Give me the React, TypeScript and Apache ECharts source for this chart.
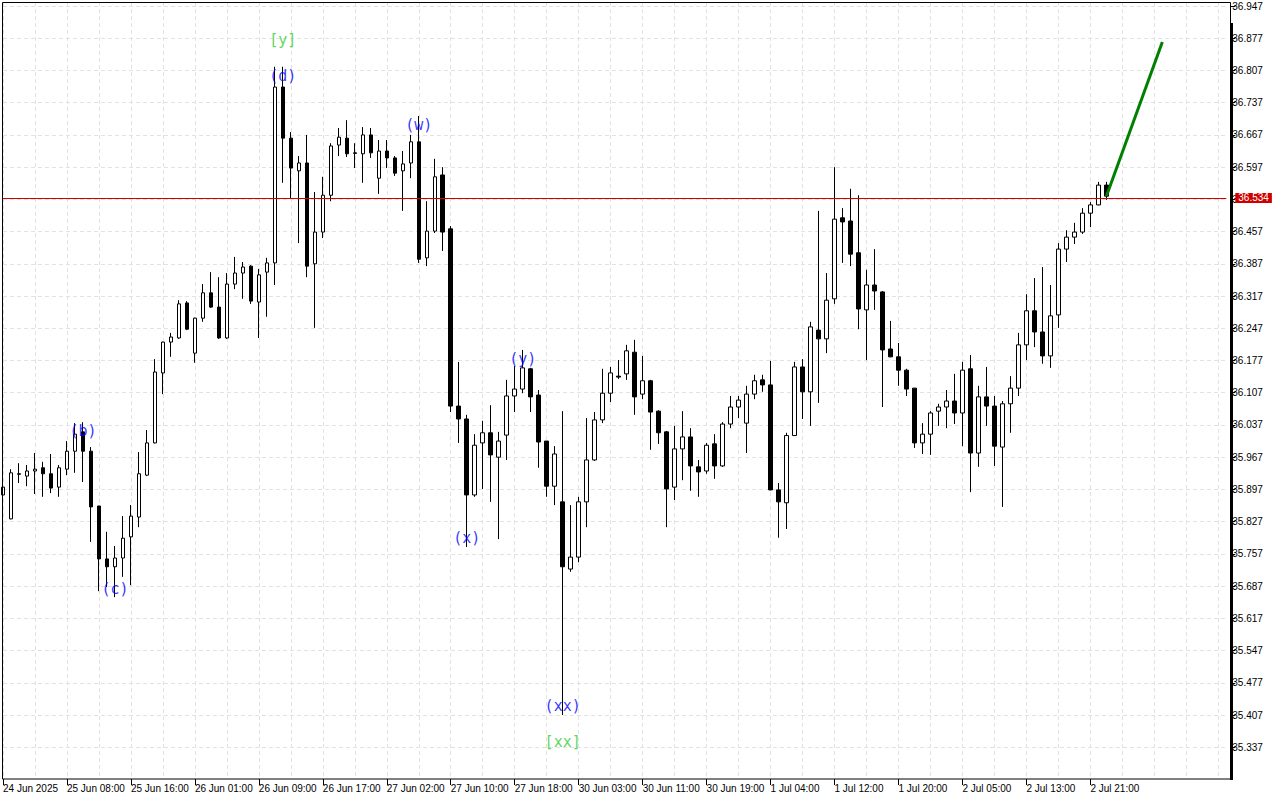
import React, { useEffect, useRef } from 'react';
import * as echarts from 'echarts';

// H1 candles, index 0 = 24 Jun 23:00
const opens = [35.885, 35.833, 35.931, 35.926, 35.937, 35.944, 35.931, 35.902, 35.941, 35.980, 36.022, 35.980, 35.861, 35.746, 35.729, 35.748, 35.794, 35.837, 35.928, 35.998, 36.150, 36.217, 36.226, 36.302, 36.193, 36.269, 36.324, 36.293, 36.226, 36.343, 36.367, 36.382, 36.304, 36.369, 36.389, 36.771, 36.660, 36.589, 36.606, 36.387, 36.456, 36.536, 36.645, 36.660, 36.628, 36.626, 36.667, 36.573, 36.632, 36.617, 36.589, 36.606, 36.652, 36.400, 36.458, 36.580, 36.463, 36.078, 36.050, 35.885, 35.998, 36.020, 35.967, 36.015, 36.100, 36.115, 36.159, 36.102, 36.002, 35.904, 35.870, 35.724, 35.750, 35.870, 35.961, 36.048, 36.106, 36.143, 36.148, 36.195, 36.104, 36.133, 36.067, 36.022, 35.902, 35.985, 36.011, 35.946, 35.937, 35.996, 35.948, 36.039, 36.076, 36.041, 36.104, 36.135, 36.124, 35.896, 35.868, 36.014, 36.163, 36.109, 36.243, 36.224, 36.311, 36.487, 36.480, 36.411, 36.287, 36.341, 36.326, 36.202, 36.185, 36.156, 36.117, 35.998, 36.017, 36.067, 36.076, 36.089, 36.063, 36.159, 35.976, 36.098, 36.078, 35.989, 36.083, 36.117, 36.211, 36.285, 36.239, 36.187, 36.276, 36.419, 36.445, 36.456, 36.497, 36.515, 36.558];
const closes = [35.902, 35.933, 35.930, 35.937, 35.941, 35.931, 35.900, 35.944, 35.980, 36.017, 35.980, 35.859, 35.746, 35.729, 35.748, 35.791, 35.839, 35.931, 35.998, 36.152, 36.217, 36.228, 36.300, 36.245, 36.269, 36.324, 36.293, 36.226, 36.343, 36.367, 36.380, 36.306, 36.363, 36.389, 36.771, 36.660, 36.595, 36.606, 36.382, 36.456, 36.536, 36.643, 36.662, 36.626, 36.627, 36.667, 36.628, 36.632, 36.617, 36.584, 36.604, 36.652, 36.397, 36.458, 36.576, 36.456, 36.078, 36.050, 35.885, 35.993, 36.020, 35.972, 36.002, 36.100, 36.115, 36.161, 36.098, 36.000, 35.904, 35.974, 35.729, 35.750, 35.870, 35.961, 36.048, 36.106, 36.150, 36.141, 36.198, 36.098, 36.133, 36.065, 36.020, 35.898, 35.985, 36.011, 35.948, 35.935, 35.993, 35.948, 36.039, 36.076, 36.091, 36.104, 36.133, 36.124, 35.896, 35.870, 36.014, 36.163, 36.109, 36.250, 36.224, 36.308, 36.484, 36.478, 36.408, 36.289, 36.341, 36.328, 36.200, 36.185, 36.156, 36.115, 35.998, 36.017, 36.063, 36.076, 36.089, 36.063, 36.156, 35.976, 36.098, 36.078, 35.991, 36.083, 36.117, 36.211, 36.285, 36.239, 36.187, 36.274, 36.419, 36.445, 36.456, 36.497, 36.515, 36.558, 36.534];
const lows = [35.883, 35.832, 35.911, 35.904, 35.887, 35.881, 35.889, 35.881, 35.928, 35.933, 35.913, 35.783, 35.676, 35.685, 35.663, 35.707, 35.689, 35.815, 35.926, 35.997, 36.104, 36.185, 36.224, 36.243, 36.172, 36.261, 36.291, 36.224, 36.224, 36.332, 36.311, 36.300, 36.226, 36.272, 36.341, 36.563, 36.528, 36.432, 36.358, 36.248, 36.443, 36.523, 36.621, 36.619, 36.595, 36.563, 36.617, 36.539, 36.595, 36.578, 36.502, 36.573, 36.389, 36.382, 36.454, 36.415, 36.065, 35.998, 35.772, 35.881, 35.898, 35.870, 35.789, 35.961, 36.065, 36.106, 36.065, 35.944, 35.881, 35.863, 35.407, 35.718, 35.739, 35.815, 35.959, 36.041, 36.087, 36.137, 36.135, 36.059, 36.093, 35.983, 35.996, 35.815, 35.874, 35.917, 35.894, 35.881, 35.931, 35.920, 35.946, 36.030, 36.052, 35.976, 36.093, 36.109, 35.895, 35.792, 35.811, 36.013, 36.050, 36.035, 36.085, 36.193, 36.300, 36.389, 36.382, 36.245, 36.178, 36.287, 36.076, 36.184, 36.122, 36.100, 35.987, 35.974, 35.972, 36.035, 36.030, 36.039, 35.991, 35.891, 35.946, 36.035, 35.948, 35.859, 36.020, 36.100, 36.178, 36.206, 36.170, 36.161, 36.248, 36.391, 36.430, 36.452, 36.467, 36.514, 36.526];
const highs = [35.904, 35.941, 35.954, 35.950, 35.976, 35.957, 35.974, 35.950, 36.002, 36.041, 36.043, 35.989, 35.861, 35.805, 35.774, 35.839, 35.863, 35.978, 36.026, 36.180, 36.218, 36.237, 36.308, 36.306, 36.270, 36.343, 36.369, 36.358, 36.367, 36.402, 36.391, 36.384, 36.376, 36.400, 36.815, 36.815, 36.673, 36.621, 36.667, 36.543, 36.576, 36.649, 36.682, 36.699, 36.649, 36.684, 36.682, 36.656, 36.656, 36.621, 36.632, 36.667, 36.708, 36.523, 36.615, 36.597, 36.469, 36.174, 36.059, 36.017, 36.046, 36.080, 36.022, 36.135, 36.165, 36.200, 36.161, 36.113, 36.002, 35.991, 36.067, 35.863, 35.881, 36.052, 36.065, 36.159, 36.163, 36.178, 36.211, 36.222, 36.187, 36.135, 36.069, 36.024, 36.035, 36.067, 36.030, 35.961, 35.998, 36.017, 36.043, 36.100, 36.100, 36.122, 36.146, 36.146, 36.176, 35.911, 36.020, 36.174, 36.180, 36.261, 36.502, 36.367, 36.597, 36.508, 36.550, 36.536, 36.374, 36.419, 36.328, 36.263, 36.215, 36.159, 36.117, 36.041, 36.067, 36.083, 36.113, 36.148, 36.174, 36.189, 36.122, 36.163, 36.100, 36.089, 36.143, 36.237, 36.321, 36.356, 36.380, 36.341, 36.432, 36.460, 36.476, 36.508, 36.521, 36.565, 36.565];

const xLabels = ['24 Jun 2025', '25 Jun 08:00', '25 Jun 16:00', '26 Jun 01:00', '26 Jun 09:00', '26 Jun 17:00', '27 Jun 02:00', '27 Jun 10:00', '27 Jun 18:00', '30 Jun 03:00', '30 Jun 11:00', '30 Jun 19:00', '1 Jul 04:00', '1 Jul 12:00', '1 Jul 20:00', '2 Jul 05:00', '2 Jul 13:00', '2 Jul 21:00'];
const yTicks = [35.337, 35.407, 35.477, 35.547, 35.617, 35.687, 35.757, 35.827, 35.897, 35.967, 36.037, 36.107, 36.177, 36.247, 36.317, 36.387, 36.457, 36.527, 36.597, 36.667, 36.737, 36.807, 36.877, 36.947];
const slotCount = 154;
const yMin = 35.268;
const yMax = 36.9557;
const lastPrice = 36.534;

const arrowX = [138, 145];
const arrowY = [36.534, 36.869];

const blueWaveText = ['(b)', '(c)', '(d)', '(w)', '(x)', '(y)', '(xx)'];
const blueWaveX = [10, 14, 35, 52, 58, 65, 70];
const blueWaveY = [36.024, 35.681, 36.795, 36.689, 35.792, 36.180, 35.427];
const greenWaveText = ['[y]', '[xx]'];
const greenWaveX = [35, 70];
const greenWaveY = [36.873, 35.348];

const categories = Array.from({ length: slotCount }, (_, i) =>
  i % 8 === 0 && i / 8 < xLabels.length ? xLabels[i / 8] : ''
);
const candleData = opens.map((o, i) => [o, closes[i], lows[i], highs[i]]);

const isLabelSlot = (i: number) => i % 8 === 0 && i / 8 < xLabels.length;
const gridColor = '#e2e2e2';
const axisFont = 'Liberation Sans, Arial, sans-serif';

export default function App() {
  const ref = useRef<HTMLDivElement>(null);
  useEffect(() => {
    if (!ref.current) return;
    const chart = echarts.init(ref.current, null, { renderer: 'svg' });
    const waveLabel = (texts: string[], color: string) => ({
      show: true,
      position: 'inside',
      formatter: (p: any) => texts[p.dataIndex],
      fontFamily: 'DejaVu Sans Mono, monospace',
      fontSize: 15,
      color,
    });
    chart.setOption({
      animation: false,
      backgroundColor: '#ffffff',
      grid: { left: 2.3, top: 2, width: 1224, height: 777, containLabel: false },
      xAxis: {
        type: 'category',
        data: categories,
        boundaryGap: false,
        axisLine: { show: false },
        axisTick: { show: true, interval: isLabelSlot, length: 6, lineStyle: { color: '#000' } },
        axisLabel: {
          interval: isLabelSlot,
          align: 'left',
          margin: 4,
          fontSize: 10,
          fontFamily: axisFont,
          color: '#000',
        },
        splitLine: {
          show: true,
          interval: (i: number) => i % 4 === 0,
          lineStyle: { color: gridColor, type: [4, 3], width: 1 },
        },
      },
      yAxis: {
        type: 'value',
        position: 'right',
        offset: 4,
        min: yMin,
        max: yMax,
        axisLine: { show: false },
        axisTick: { show: true, customValues: yTicks, length: 5, lineStyle: { color: '#000' } },
        axisLabel: {
          customValues: yTicks,
          formatter: (v: number) => v.toFixed(3),
          margin: 2,
          fontSize: 10,
          fontFamily: axisFont,
          color: '#000',
        },
        splitLine: { show: true, lineStyle: { color: gridColor, type: [4, 3], width: 1 } },
      },
      series: [
        {
          type: 'candlestick',
          data: candleData,
          barWidth: 4,
          itemStyle: {
            color: '#ffffff',
            color0: '#000000',
            borderColor: '#000000',
            borderColor0: '#000000',
            borderWidth: 1,
          },
          markLine: {
            silent: true,
            symbol: ['none', 'none'],
            z: 20,
            data: [{ yAxis: lastPrice }],
            lineStyle: { color: '#d00000', width: 1, type: 'solid' },
            label: {
              show: true,
              position: 'end',
              distance: 9,
              formatter: lastPrice.toFixed(3),
              color: '#ffffff',
              backgroundColor: '#d00000',
              fontSize: 10,
              fontFamily: axisFont,
              lineHeight: 10,
              padding: [0, 3, 0, 3],
            },
          },
        },
        {
          type: 'line',
          data: arrowX.map((x, i) => [x, arrowY[i]]),
          symbol: 'none',
          z: 10,
          lineStyle: { color: '#008000', width: 3 },
        },
        {
          type: 'scatter',
          data: blueWaveX.map((x, i) => [x, blueWaveY[i]]),
          symbolSize: 0.1,
          itemStyle: { color: 'transparent' },
          z: 12,
          label: waveLabel(blueWaveText, '#0000ff'),
        },
        {
          type: 'scatter',
          data: greenWaveX.map((x, i) => [x, greenWaveY[i]]),
          symbolSize: 0.1,
          itemStyle: { color: 'transparent' },
          z: 12,
          label: waveLabel(greenWaveText, '#32cd32'),
        },
      ],
      graphic: [
        {
          type: 'rect',
          z: 100,
          silent: true,
          shape: { x: 2.5, y: 2.5, width: 1228, height: 776.5 },
          style: { fill: 'none', stroke: '#000', lineWidth: 1 },
        },
        {
          type: 'rect',
          z: 100,
          silent: true,
          shape: { x: 1230, y: 23, width: 3, height: 757 },
          style: { fill: '#000' },
        },
      ],
    });
    return () => chart.dispose();
  }, []);
  return (
    <div
      ref={ref}
      style={{ position: 'fixed', left: 0, top: 0, width: 1280, height: 800, background: '#fff' }}
    />
  );
}
